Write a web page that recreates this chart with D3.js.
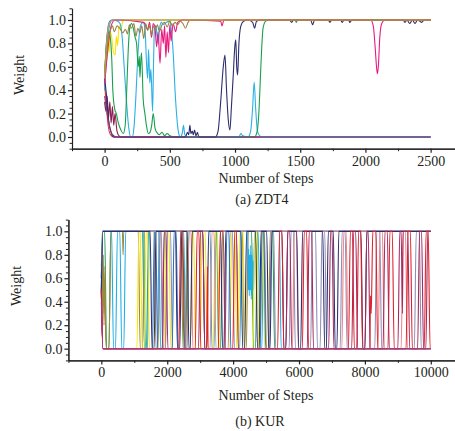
<!DOCTYPE html>
<html>
<head>
<meta charset="utf-8">
<script src="https://cdn.jsdelivr.net/npm/d3@7"></script>
<style>
  body { margin: 0; background: #fff; }
  svg text { font-family: "Liberation Serif", "Times New Roman", Times, "DejaVu Serif", serif; fill: #231f20; }
</style>
</head>
<body>
<div id="chart"></div>
<script>
// ---- (a) ZDT4 : weight traces, [step, weight]
const zdtBlue = [[0,0.5],[12,0.78],[25,0.93],[40,0.99],[60,1],[2500,1]];
const zdtRed = [[0,0.45],[10,0.32],[25,0.12],[45,0.02],[70,0],[2500,0]];
const zdtMaroon = [[0,0.3],[10,0.22],[20,0.35],[30,0.16],[40,0.3],[50,0.12],[60,0.26],[70,0.1],[80,0.2],[95,0.05],[110,0.01],[130,0],[2500,0]];
const zdtYellow = [[0,0.55],[5,0.62],[15,0.64],[25,0.8],[35,0.72],[41,0.9],[55,0.85],[65,0.74],[81,0.7],[90,0.86],[100,0.78],[110,0.95],[125,0.92],[140,0.99],[160,1],[2500,1]];
const zdtCyan = [[0,0.4],[15,0.7],[30,0.9],[45,0.98],[60,1],[100,0.99],[118,0.97],[135,0.85],[150,0.6],[168,0.3],[185,0.08],[200,0],[212,0],[225,0.08],[240,0.35],[255,0.7],[270,0.92],[283,0.97],[296,0.98],[310,0.92],[322,0.62],[330,0.5],[337,0.75],[347,0.46],[355,0.58],[368,0.22],[375,0.62],[382,0.92],[392,0.95],[402,0.87],[412,0.8],[422,0.93],[435,0.98],[450,0.96],[475,0.98],[501,0.99],[513,0.9],[527,0.7],[540,0.4],[553,0.18],[565,0.05],[580,0],[595,0.03],[605,0.1],[615,0.02],[640,0],[1030,0],[1045,0.03],[1060,0.01],[1100,0],[1120,0.05],[1135,0.25],[1147,0.47],[1158,0.25],[1172,0.05],[1190,0.01],[1212,0],[2500,0]];
const zdtGreen = [[0,0.55],[20,0.85],[35,0.9],[48,0.8],[55,0.66],[63,0.4],[79,0.23],[90,0.2],[105,0.12],[125,0.06],[143,0.03],[158,0.1],[168,0.35],[181,0.74],[194,0.94],[207,0.97],[220,0.93],[232,0.86],[245,0.8],[258,0.6],[266,0.69],[271,0.51],[278,0.66],[283,0.72],[296,0.32],[309,0.2],[322,0.09],[335,0.03],[348,0.04],[360,0.09],[373,0.2],[386,0.08],[399,0.04],[420,0.02],[440,0.04],[460,0.01],[480,0.03],[500,0.01],[540,0],[1150,0],[1170,0.05],[1185,0.25],[1195,0.52],[1205,0.77],[1215,0.93],[1235,0.99],[1260,1],[1460,1],[1470,0.98],[1480,1],[2500,1]];
const zdtNavy = [[0,0.5],[15,0.35],[30,0.15],[50,0.04],[70,0],[620,0],[635,0.04],[645,0.02],[654,0.1],[662,0.03],[672,0.05],[680,0.02],[690,0.06],[700,0.01],[712,0.04],[722,0],[850,0],[870,0.05],[890,0.3],[910,0.6],[923,0.7],[935,0.4],[948,0.15],[961,0.06],[972,0.25],[986,0.52],[999,0.78],[1006,0.83],[1013,0.6],[1020,0.53],[1030,0.8],[1045,0.95],[1065,0.99],[1100,1],[1135,0.98],[1150,0.93],[1165,0.99],[1200,1],[1420,1],[1434,0.98],[1448,1],[1580,1],[1595,0.96],[1610,1],[1715,1],[1728,0.98],[1740,1],[1810,1],[1822,0.98],[1835,1],[1870,1],[1881,0.98],[1895,1],[2290,1],[2303,0.98],[2318,1],[2340,0.97],[2360,1],[2380,0.97],[2400,1],[2431,0.98],[2450,1],[2500,1]];
const zdtMagenta = [[0,0.45],[25,0.75],[50,0.95],[80,1],[300,0.98],[330,0.92],[345,0.98],[360,0.85],[372,0.97],[385,0.95],[399,0.77],[410,0.9],[425,0.63],[438,0.92],[450,0.8],[460,0.95],[470,0.68],[480,0.9],[490,0.72],[500,0.96],[510,0.82],[525,0.97],[545,0.9],[560,0.98],[600,1],[890,0.99],[900,0.95],[915,1],[2040,1],[2060,0.95],[2075,0.76],[2085,0.6],[2092,0.54],[2100,0.62],[2110,0.85],[2125,0.97],[2150,1],[2500,1]];
const zdtOlive = [[0,0.55],[15,0.7],[30,0.85],[50,0.93],[60,0.95],[75,0.9],[95,0.95],[115,0.93],[140,0.89],[160,0.92],[175,0.88],[190,0.96],[205,0.93],[225,0.97],[240,0.86],[255,0.93],[270,0.89],[285,0.95],[300,0.84],[315,0.97],[330,0.91],[345,0.95],[360,0.87],[375,0.95],[390,0.92],[405,0.96],[420,0.9],[440,0.96],[460,0.98],[480,0.94],[500,0.99],[520,0.95],[540,0.98],[560,0.96],[580,0.99],[600,0.97],[620,0.93],[640,0.98],[660,1],[2500,1]];
const zdtOrange = [[0,0.5],[15,0.8],[35,0.97],[60,1],[2500,1]];
const zdtPurple = [[0,0.35],[20,0.2],[40,0.08],[60,0.02],[90,0],[2500,0]];

// ---- (b) KUR : weight traces, [step, weight]
const kurTop = [[0,0.6],[50,1],[10000,1]];
const kurGreen = [[0,0.6],[30,1],[100,1],[160,0],[230,0],[290,1],[1250,1],[1310,0],[1370,0],[1430,1],[2450,1],[2510,0],[2560,0],[2620,1],[3500,1],[3560,0],[3620,0],[3680,1],[4560,1],[4620,0],[4680,0],[4740,1],[5200,1],[5260,0],[10000,0]];
const kurOlive = [[0,0.7],[20,0.85],[40,0.3],[60,0.8],[80,0.2],[110,0.7],[130,0.1],[160,0],[230,0],[290,1],[640,1],[660,0.8],[680,1],[1120,1],[1180,0],[1250,0],[1310,1],[1600,1],[1660,0],[1720,0],[1780,1],[2420,1],[2480,0],[2540,0],[2600,1],[4280,1],[4340,0],[4400,0],[4460,1],[4950,1],[5010,0],[5070,0],[5130,1],[10000,1]];
const kurCyan = [[0,0.5],[40,1],[310,1],[370,0],[430,0],[490,1],[560,1],[620,0],[680,0],[740,1],[1280,1],[1340,0],[1400,0],[1460,1],[1740,1],[1800,0],[1850,0],[1910,1],[2500,1],[2560,0],[2600,0],[2660,1],[3300,1],[3360,0],[3420,0],[3480,1],[4100,1],[4160,0],[4200,0],[4260,1],[4440,1],[4460,0.5],[4475,0.85],[4490,0.45],[4505,0.8],[4520,0.5],[4535,0.88],[4550,0.42],[4565,0.8],[4580,0.45],[4600,0.75],[4620,0.5],[4640,0.85],[4670,1],[4760,1],[4820,0],[4870,0],[4930,1],[5400,1],[5460,0],[10000,0]];
const kurYellow = [[0,0.5],[40,0],[1080,0],[1140,1],[1180,1],[1240,0],[1300,0],[1360,1],[1400,1],[1460,0],[1900,0],[1960,1],[2050,1],[2110,0],[2700,0],[2760,1],[2800,1],[2860,0],[3000,0],[3060,1],[3150,1],[3210,0],[3400,0],[3460,1],[3520,1],[3580,0],[3900,0],[3960,1],[4050,1],[4110,0],[4150,0],[4210,1],[4300,1],[4360,0],[4600,0],[4660,1],[4720,1],[4780,0],[4800,0],[4860,1],[4900,1],[4960,0],[10000,0]];
const kurLavender = [[0,0.5],[50,0],[1700,0],[1760,1],[1800,1],[1860,0],[1950,0],[2010,1],[2100,1],[2160,0],[3850,0],[3910,1],[3980,1],[4040,0],[5100,0],[5160,1],[5230,1],[5290,0],[5700,0],[5760,1],[5830,1],[5890,0],[6350,0],[6410,1],[6500,1],[6560,0],[6640,0],[6700,1],[6780,1],[6840,0],[7250,0],[7310,1],[7400,1],[7460,0],[8300,0],[8360,1],[8450,1],[8510,0],[9500,0],[9560,1],[9650,1],[9710,0],[10000,0]];
const kurBlue = [[0,0.5],[50,0],[1550,0],[1610,1],[1650,1],[1710,0],[2150,0],[2210,1],[2270,1],[2330,0],[3750,0],[3810,1],[3870,1],[3930,0],[4820,0],[4880,1],[4930,1],[4990,0],[10000,0]];
const kurSalmon = [[0,0.5],[50,0],[2600,0],[2660,1],[2720,1],[2780,0],[3300,0],[3360,1],[3420,1],[3480,0],[5800,0],[5860,1],[5920,1],[5980,0],[7300,0],[7360,1],[7430,1],[7490,0],[8400,0],[8460,1],[8530,1],[8590,0],[9100,0],[9160,1],[9230,1],[9290,0],[10000,0]];
const kurMauve = [[0,0.5],[40,1],[1820,1],[1880,0],[1940,0],[2000,1],[10000,1]];
const kurNavy = [[0,0.5],[50,1],[1480,1],[1540,0],[1600,0],[1660,1],[2250,1],[2310,0],[2380,0],[2440,1],[2600,1],[2660,0],[2700,0],[2760,1],[3080,1],[3140,0],[3200,0],[3260,1],[3620,1],[3680,0],[3720,0],[3780,1],[4230,1],[4290,0],[4350,0],[4410,1],[4680,1],[4740,0],[4790,0],[4850,1],[5020,1],[5080,0],[5120,0],[5180,1],[5480,1],[5540,0],[5600,0],[5660,1],[5930,1],[5990,0],[6050,0],[6110,1],[6720,1],[6780,0],[6830,0],[6890,1],[7040,1],[7100,0],[7150,0],[7210,1],[7880,1],[7940,0],[8000,0],[8060,1],[10000,1]];
const kurRed = [[0,0.5],[50,0],[2350,0],[2410,1],[2470,1],[2530,0],[2850,0],[2910,1],[2960,1],[3020,0],[3200,0],[3220,0.7],[3240,0],[3550,0],[3610,1],[3700,1],[3760,0],[3990,0],[4050,1],[4100,1],[4160,0],[5350,0],[5410,1],[5480,1],[5540,0],[6100,0],[6160,1],[6230,1],[6290,0],[7500,0],[7560,1],[7620,1],[7680,0],[7750,0],[7810,1],[7870,1],[7930,0],[8150,0],[8170,0.45],[8190,0.3],[8210,0.55],[8240,1],[8330,1],[8390,0],[8700,0],[8760,1],[8830,1],[8890,0],[9250,0],[9310,1],[9380,1],[9440,0],[9800,0],[9860,1],[9920,1],[9980,0],[10000,0]];
const kurMaroon = [[0,0.5],[50,0],[1850,0],[1910,1],[1960,1],[2020,0],[2950,0],[3010,1],[3080,1],[3140,0],[5600,0],[5660,1],[5720,1],[5780,0],[6250,0],[6310,1],[6380,1],[6440,0],[6900,0],[6960,1],[7000,1],[7060,0],[7600,0],[7660,1],[7720,1],[7780,0],[8000,0],[8060,1],[8100,1],[8160,0],[8550,0],[8610,1],[8680,1],[8740,0],[9000,0],[9060,1],[9100,1],[9140,0.3],[9160,1],[9300,1],[9360,0],[9600,0],[9660,1],[9720,1],[9780,0],[9850,0],[9910,1],[10000,1]];
const kurBottom = [[0,0.4],[50,0],[10000,0]];

const zdtXMajor = [0, 500, 1000, 1500, 2000, 2500];
const kurXMajor = [0, 2000, 4000, 6000, 8000, 10000];
const yMajor = [0, 0.2, 0.4, 0.6, 0.8, 1.0];

const serif = '"Liberation Serif", "Times New Roman", Times, "DejaVu Serif", serif';

const panels = [
  {
    xDomain: [-250, 2683], xRange: [72, 454.5], yRange: [148.7, 8.3],
    xMajor: zdtXMajor, xMinorStep: 250,
    series: [
      [zdtBlue, "#2f7fd6"], [zdtRed, "#e2393d"], [zdtMaroon, "#8c1f4d"],
      [zdtYellow, "#f7e400"], [zdtCyan, "#2ab0e6"], [zdtGreen, "#16a04c"],
      [zdtNavy, "#2b2d6e"], [zdtMagenta, "#e8197f"], [zdtOlive, "#9a8444"],
      [zdtOrange, "#c99a48"], [zdtPurple, "#7a3a7e"]
    ],
    xLabelY: 183, captionY: 204, caption: "(a) ZDT4", yLabelX: 24, yLabelY: 75, captionX: 262
  },
  {
    xDomain: [-1000, 10735], xRange: [68.4, 455], yRange: [360.4, 219.6],
    xMajor: kurXMajor, xMinorStep: 1000,
    series: [
      [kurTop, "#6b3a7a"], [kurGreen, "#22a05a"], [kurOlive, "#9a8a3a"],
      [kurCyan, "#1faee8"], [kurYellow, "#f7e60c"], [kurLavender, "#8f8db5"],
      [kurBlue, "#2c6cc2"], [kurSalmon, "#f08288"], [kurMauve, "#b57fa6"],
      [kurNavy, "#2d2f70"], [kurRed, "#e51f28"], [kurMaroon, "#a52a5e"],
      [kurBottom, "#b0347f"]
    ],
    xLabelY: 400, captionY: 426, caption: "(b) KUR", yLabelX: 21, yLabelY: 286, captionX: 260
  }
];

const svg = d3.select("#chart").append("svg")
  .attr("width", 455)
  .attr("height", 431)
  .style("font-family", serif);

panels.forEach(p => {
  const x = d3.scaleLinear().domain(p.xDomain).range(p.xRange);
  const y = d3.scaleLinear().domain([-0.1, 1.1]).range(p.yRange);
  const x0 = p.xRange[0];
  const yBase = p.yRange[0];

  const line = d3.line()
    .x(d => x(d[0]))
    .y(d => y(d[1]))
    .curve(d3.curveMonotoneX);

  const g = svg.append("g");

  p.series.forEach(([data, color]) => {
    g.append("path")
      .datum(data)
      .attr("fill", "none")
      .attr("stroke", color)
      .attr("stroke-width", 1.1)
      .attr("d", line);
  });

  // minor ticks
  const xMinor = d3.range(p.xDomain[0], p.xDomain[1], p.xMinorStep).filter(v => !p.xMajor.includes(v));
  const yMinor = d3.range(-0.1, 1.1001, 0.05).map(v => +v.toFixed(2)).filter(v => !yMajor.includes(v));

  svg.append("g")
    .attr("transform", `translate(0,${yBase})`)
    .call(d3.axisBottom(x).tickValues(xMinor).tickSize(2.5).tickSizeOuter(0).tickFormat(""))
    .call(a => a.selectAll("line, path").attr("stroke", "#231f20"));

  svg.append("g")
    .attr("transform", `translate(${x0},0)`)
    .call(d3.axisLeft(y).tickValues(yMinor).tickSize(2.5).tickSizeOuter(0).tickFormat(""))
    .call(a => a.selectAll("line, path").attr("stroke", "#231f20"));

  const xAxis = svg.append("g")
    .attr("transform", `translate(0,${yBase})`)
    .call(d3.axisBottom(x).tickValues(p.xMajor).tickSize(4).tickSizeOuter(0).tickPadding(3).tickFormat(d3.format("d")));

  const yAxis = svg.append("g")
    .attr("transform", `translate(${x0},0)`)
    .call(d3.axisLeft(y).tickValues(yMajor).tickSize(4).tickSizeOuter(0).tickPadding(2).tickFormat(d3.format(".1f")));

  [xAxis, yAxis].forEach(a => {
    a.attr("font-family", serif).attr("font-size", 14);
    a.selectAll("path, line").attr("stroke", "#231f20").attr("stroke-width", 1.2);
    a.selectAll("text").attr("fill", "#231f20");
  });

  svg.append("text")
    .attr("x", 266).attr("y", p.xLabelY)
    .attr("text-anchor", "middle")
    .attr("font-family", serif)
    .attr("font-size", 14)
    .text("Number of Steps");

  svg.append("text")
    .attr("x", p.captionX).attr("y", p.captionY)
    .attr("text-anchor", "middle")
    .attr("font-family", serif)
    .attr("font-size", 14)
    .text(p.caption);

  svg.append("text")
    .attr("transform", `translate(${p.yLabelX},${p.yLabelY}) rotate(-90)`)
    .attr("text-anchor", "middle")
    .attr("font-family", serif)
    .attr("font-size", 14)
    .text("Weight");
});
</script>
</body>
</html>
